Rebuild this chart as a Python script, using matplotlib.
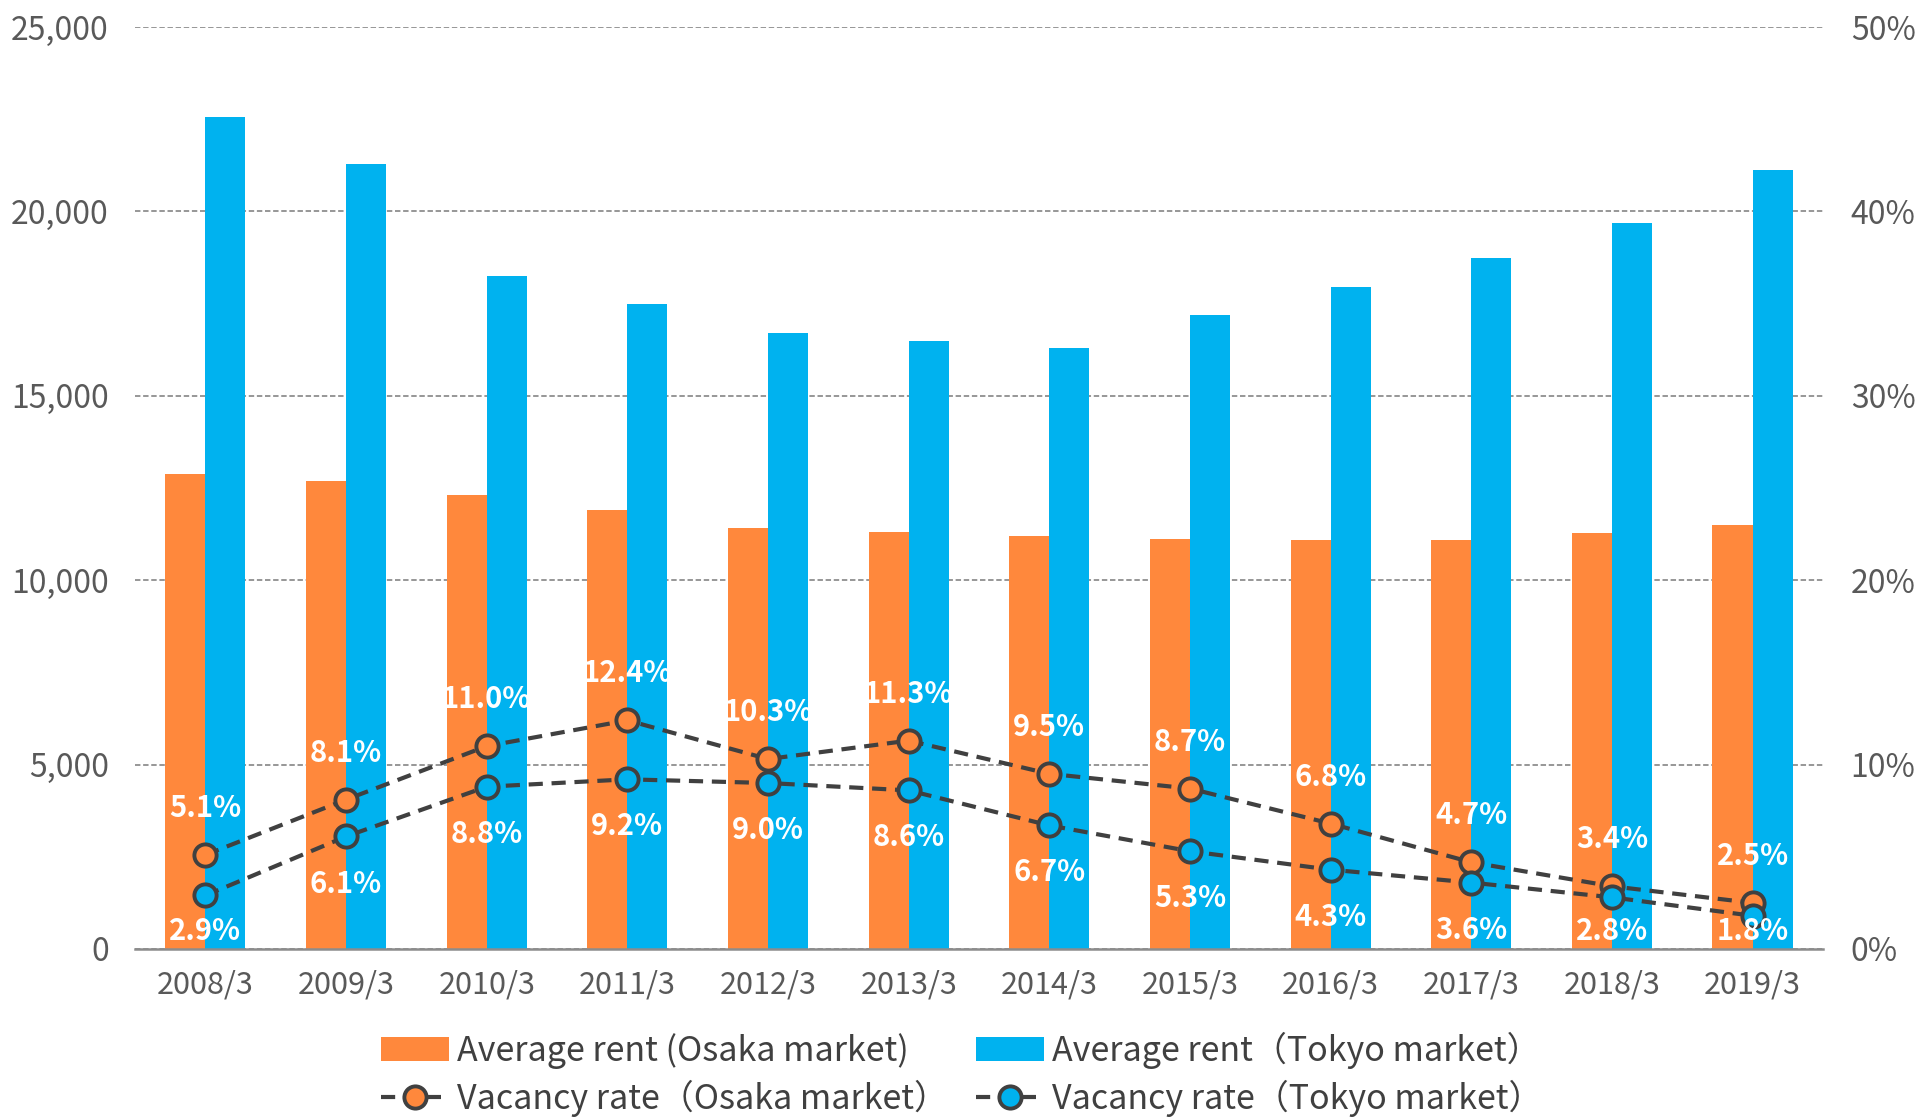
import matplotlib

matplotlib.use("Agg")
import matplotlib.pyplot as plt
from matplotlib.lines import Line2D
from matplotlib.patches import Patch
from matplotlib.ticker import FuncFormatter
import numpy as np


periods = ["2008/3", "2009/3", "2010/3", "2011/3", "2012/3", "2013/3",
           "2014/3", "2015/3", "2016/3", "2017/3", "2018/3", "2019/3"]

rent_osaka = [12875, 12685, 12313, 11898, 11427, 11302,
              11201, 11120, 11093, 11093, 11291, 11500]
rent_tokyo = [22557, 21282, 18253, 17486, 16707, 16490,
              16308, 17187, 17963, 18733, 19691, 21128]

vacancy_osaka = [5.1, 8.1, 11.0, 12.4, 10.3, 11.3, 9.5, 8.7, 6.8, 4.7, 3.4, 2.5]
vacancy_tokyo = [2.9, 6.1, 8.8, 9.2, 9.0, 8.6, 6.7, 5.3, 4.3, 3.6, 2.8, 1.8]

legend_labels = [
    "Average rent (Osaka market)",
    "Vacancy rate（Osaka market）",
    "Average rent（Tokyo market）",
    "Vacancy rate（Tokyo market）",
]

ORANGE = "#FF883C"
BLUE = "#00B2EF"
LINE_GRAY = "#404040"
TEXT_GRAY = "#595959"


def plot_chart(save_path):
    plt.rcParams["font.family"] = ["Noto Sans CJK JP", "DejaVu Sans"]

    fig = plt.figure(figsize=(19.16, 11.18), dpi=100)
    ax = fig.add_axes([0.0705, 0.1512, 0.8809, 0.8246])
    ax2 = ax.twinx()

    x = np.arange(len(periods))
    width = 0.285

    ax.set_axisbelow(True)
    ax.bar(x - width / 2, rent_osaka, width, color=ORANGE, zorder=2)
    ax.bar(x + width / 2, rent_tokyo, width, color=BLUE, zorder=2)

    ax.set_xlim(-0.5, len(periods) - 0.5)
    ax.set_ylim(0, 25000)
    ax.set_yticks(np.arange(0, 25001, 5000))
    ax.yaxis.set_major_formatter(FuncFormatter(lambda v, _: f"{int(v):,}"))
    ax.set_xticks(x)
    ax.set_xticklabels(periods)

    ax.yaxis.grid(True, color="#8f8f8f", linestyle=(0, (3, 1.5)), linewidth=1.3)
    for spine in ["top", "left", "right"]:
        ax.spines[spine].set_visible(False)
        ax2.spines[spine].set_visible(False)
    ax2.spines["bottom"].set_visible(False)
    ax.spines["bottom"].set_color("#8c8c8c")
    ax.spines["bottom"].set_linewidth(1.8)

    ax.tick_params(axis="y", length=0, pad=19, labelsize=23, labelcolor=TEXT_GRAY)
    ax.tick_params(axis="x", length=0, pad=15, labelsize=22, labelcolor=TEXT_GRAY)

    # vacancy rates on the secondary axis
    ax2.set_ylim(0, 50)
    ax2.set_yticks(np.arange(0, 51, 10))
    ax2.yaxis.set_major_formatter(FuncFormatter(lambda v, _: f"{int(v)}%"))
    ax2.tick_params(axis="y", length=0, pad=20, labelsize=23, labelcolor=TEXT_GRAY)

    line_style = dict(
        color=LINE_GRAY,
        linestyle=(0, (3.4, 2.1)),
        linewidth=3.0,
        marker="o",
        markersize=16,
        markeredgewidth=2.8,
        markeredgecolor=LINE_GRAY,
    )
    ax2.plot(x, vacancy_osaka, markerfacecolor=ORANGE, zorder=3, **line_style)
    ax2.plot(x, vacancy_tokyo, markerfacecolor=BLUE, zorder=4, **line_style)

    offset = 2.55
    floor = 0.95
    label_style = dict(ha="center", va="center", color="white",
                       fontsize=21, fontweight="bold", zorder=5)
    for xi, v in zip(x, vacancy_osaka):
        ax2.text(xi, v + offset, f"{v:.1f}%", **label_style)
    for xi, v in zip(x, vacancy_tokyo):
        ax2.text(xi, max(v - offset, floor), f"{v:.1f}%", **label_style)

    handles = [
        Patch(facecolor=ORANGE),
        Line2D([], [], markerfacecolor=ORANGE, **line_style),
        Patch(facecolor=BLUE),
        Line2D([], [], markerfacecolor=BLUE, **line_style),
    ]
    fig.legend(
        handles,
        legend_labels,
        loc="center",
        bbox_to_anchor=(0.502, 0.039),
        ncol=2,
        frameon=False,
        fontsize=24.5,
        labelcolor=LINE_GRAY,
        handlelength=2.0,
        handletextpad=0.25,
        columnspacing=0.8,
        labelspacing=0.3,
    )

    fig.savefig(save_path, dpi=100)
    plt.close(fig)
    print(f"Saved plot at {save_path}")


def main():
    plot_chart("out.png")


if __name__ == "__main__":
    main()
